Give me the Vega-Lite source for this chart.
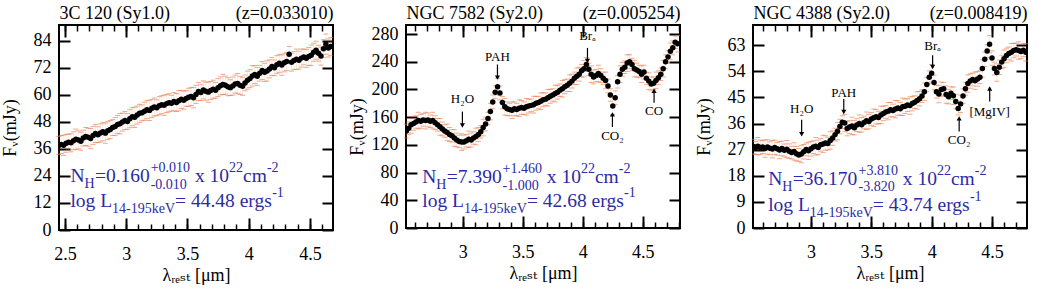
{
"$schema": "https://vega.github.io/schema/vega-lite/v6.json",
"background": "white",
"padding": {"left": 0, "top": 3, "right": 0, "bottom": 0},
"spacing": 12,
"config": {
  "font": "Liberation Serif, DejaVu Serif, serif",
  "view": {"stroke": "black", "strokeWidth": 2},
  "axis": {"domain": false, "grid": false, "labelFont": "Liberation Serif, DejaVu Serif, serif", "titleFont": "Liberation Serif, DejaVu Serif, serif", "labelColor": "black", "titleColor": "black", "tickColor": "black", "titleFontWeight": "normal", "labelFlush": false, "labelOverlap": false},
  "text": {"font": "Liberation Serif, DejaVu Serif, serif"}
},
"datasets": {
"s1": [
{"w":2.45,"f":37.5,"e":4},{"w":2.47,"f":38.0,"e":4},{"w":2.49,"f":37.6,"e":4.5},{"w":2.51,"f":38.5,"e":4},{"w":2.53,"f":39.0,"e":3.5},{"w":2.55,"f":38.7,"e":4},{"w":2.57,"f":39.6,"e":4},{"w":2.59,"f":40.3,"e":4.5},{"w":2.61,"f":40.0,"e":4},{"w":2.63,"f":39.4,"e":4},{"w":2.65,"f":40.8,"e":3.5},{"w":2.67,"f":41.5,"e":4},{"w":2.69,"f":41.2,"e":4},{"w":2.71,"f":40.6,"e":4.5},{"w":2.73,"f":42.0,"e":4},{"w":2.75,"f":42.8,"e":4},{"w":2.77,"f":42.3,"e":3.5},{"w":2.79,"f":43.1,"e":4},{"w":2.81,"f":43.6,"e":4},{"w":2.83,"f":43.0,"e":4.5},{"w":2.85,"f":44.1,"e":4},{"w":2.87,"f":44.6,"e":4},{"w":2.89,"f":45.5,"e":3.5},{"w":2.91,"f":45.9,"e":4},{"w":2.93,"f":46.8,"e":4},{"w":2.95,"f":47.2,"e":4.5},{"w":2.97,"f":47.9,"e":4},{"w":2.99,"f":48.6,"e":4},{"w":3.01,"f":48.2,"e":3.5},{"w":3.03,"f":49.4,"e":4},{"w":3.05,"f":50.3,"e":4},{"w":3.07,"f":50.0,"e":4.5},{"w":3.09,"f":51.0,"e":4},{"w":3.11,"f":51.8,"e":4},{"w":3.13,"f":52.0,"e":3.5},{"w":3.15,"f":52.7,"e":4},{"w":3.17,"f":53.4,"e":4},{"w":3.19,"f":53.1,"e":4.5},{"w":3.21,"f":54.0,"e":4},{"w":3.23,"f":54.6,"e":4},{"w":3.25,"f":54.3,"e":3.5},{"w":3.27,"f":55.2,"e":4},{"w":3.29,"f":55.6,"e":4},{"w":3.31,"f":55.4,"e":4.5},{"w":3.33,"f":56.1,"e":4},{"w":3.35,"f":56.5,"e":4},{"w":3.37,"f":56.3,"e":3.5},{"w":3.39,"f":57.0,"e":4},{"w":3.41,"f":56.6,"e":4},{"w":3.43,"f":57.4,"e":4.5},{"w":3.45,"f":58.0,"e":4},{"w":3.47,"f":57.6,"e":4},{"w":3.49,"f":58.4,"e":3.5},{"w":3.51,"f":58.9,"e":4},{"w":3.53,"f":59.3,"e":4},{"w":3.55,"f":58.7,"e":4.5},{"w":3.57,"f":60.2,"e":4},{"w":3.59,"f":61.5,"e":4},{"w":3.61,"f":61.0,"e":3.5},{"w":3.63,"f":62.2,"e":4},{"w":3.65,"f":61.6,"e":4},{"w":3.67,"f":61.2,"e":4.5},{"w":3.69,"f":61.9,"e":4},{"w":3.71,"f":62.5,"e":4},{"w":3.73,"f":62.0,"e":3.5},{"w":3.75,"f":63.2,"e":4},{"w":3.77,"f":64.0,"e":4},{"w":3.79,"f":64.6,"e":4.5},{"w":3.81,"f":64.3,"e":4},{"w":3.83,"f":63.6,"e":4},{"w":3.85,"f":63.2,"e":3.5},{"w":3.87,"f":63.9,"e":4},{"w":3.89,"f":64.8,"e":4},{"w":3.91,"f":65.0,"e":4.5},{"w":3.93,"f":64.2,"e":4},{"w":3.95,"f":63.8,"e":4},{"w":3.97,"f":65.3,"e":3.5},{"w":3.99,"f":66.5,"e":4},{"w":4.01,"f":67.2,"e":4},{"w":4.03,"f":68.4,"e":4.5},{"w":4.05,"f":69.0,"e":4},{"w":4.07,"f":68.2,"e":4},{"w":4.09,"f":69.6,"e":3.5},{"w":4.11,"f":70.8,"e":4},{"w":4.13,"f":70.0,"e":4},{"w":4.15,"f":70.6,"e":4.5},{"w":4.17,"f":71.5,"e":4},{"w":4.19,"f":72.6,"e":4},{"w":4.21,"f":72.0,"e":3.5},{"w":4.23,"f":73.4,"e":4},{"w":4.25,"f":74.0,"e":4},{"w":4.27,"f":73.2,"e":4.5},{"w":4.29,"f":74.2,"e":4},{"w":4.31,"f":74.8,"e":4},{"w":4.33,"f":78.0,"e":3.5},{"w":4.35,"f":74.5,"e":4},{"w":4.37,"f":75.2,"e":4},{"w":4.39,"f":75.8,"e":4.5},{"w":4.41,"f":75.4,"e":4},{"w":4.43,"f":76.3,"e":4},{"w":4.45,"f":76.8,"e":3.5},{"w":4.47,"f":76.2,"e":4},{"w":4.49,"f":77.0,"e":4},{"w":4.51,"f":77.6,"e":4.5},{"w":4.53,"f":78.9,"e":4},{"w":4.55,"f":79.8,"e":4},{"w":4.57,"f":78.5,"e":3.5},{"w":4.59,"f":77.2,"e":4},{"w":4.61,"f":80.5,"e":4},{"w":4.63,"f":82.5,"e":4.5},{"w":4.65,"f":80.8,"e":4},{"w":4.67,"f":81.5,"e":4}
],
"s2": [
{"w":2.53,"f":140,"e":10},{"w":2.55,"f":144,"e":9},{"w":2.57,"f":149,"e":12},{"w":2.59,"f":151,"e":10},{"w":2.61,"f":153,"e":9},{"w":2.63,"f":155,"e":12},{"w":2.65,"f":154,"e":10},{"w":2.67,"f":156,"e":9},{"w":2.69,"f":155,"e":12},{"w":2.71,"f":156,"e":10},{"w":2.73,"f":154,"e":9},{"w":2.75,"f":155,"e":12},{"w":2.77,"f":152,"e":10},{"w":2.79,"f":149,"e":9},{"w":2.81,"f":146,"e":12},{"w":2.83,"f":143,"e":10},{"w":2.85,"f":140,"e":9},{"w":2.87,"f":138,"e":12},{"w":2.89,"f":135,"e":10},{"w":2.91,"f":133,"e":9},{"w":2.93,"f":130,"e":12},{"w":2.95,"f":127,"e":10},{"w":2.97,"f":125,"e":9},{"w":2.99,"f":124,"e":12},{"w":3.01,"f":124,"e":10},{"w":3.03,"f":126,"e":9},{"w":3.05,"f":128,"e":12},{"w":3.07,"f":127,"e":10},{"w":3.09,"f":130,"e":9},{"w":3.11,"f":132,"e":12},{"w":3.13,"f":135,"e":10},{"w":3.15,"f":139,"e":9},{"w":3.17,"f":145,"e":12},{"w":3.19,"f":150,"e":10},{"w":3.21,"f":158,"e":9},{"w":3.23,"f":168,"e":12},{"w":3.25,"f":182,"e":10},{"w":3.27,"f":196,"e":9},{"w":3.29,"f":204,"e":12},{"w":3.31,"f":195,"e":10},{"w":3.33,"f":181,"e":9},{"w":3.35,"f":175,"e":12},{"w":3.37,"f":172,"e":10},{"w":3.39,"f":171,"e":9},{"w":3.41,"f":170,"e":12},{"w":3.43,"f":172,"e":10},{"w":3.45,"f":171,"e":9},{"w":3.47,"f":173,"e":12},{"w":3.49,"f":174,"e":10},{"w":3.51,"f":173,"e":9},{"w":3.53,"f":175,"e":12},{"w":3.55,"f":176,"e":10},{"w":3.57,"f":177,"e":9},{"w":3.59,"f":178,"e":12},{"w":3.61,"f":180,"e":10},{"w":3.63,"f":181,"e":9},{"w":3.65,"f":183,"e":12},{"w":3.67,"f":185,"e":10},{"w":3.69,"f":186,"e":9},{"w":3.71,"f":188,"e":12},{"w":3.73,"f":190,"e":10},{"w":3.75,"f":192,"e":9},{"w":3.77,"f":194,"e":12},{"w":3.79,"f":196,"e":10},{"w":3.81,"f":199,"e":9},{"w":3.83,"f":201,"e":12},{"w":3.85,"f":204,"e":10},{"w":3.87,"f":206,"e":9},{"w":3.89,"f":209,"e":12},{"w":3.91,"f":212,"e":10},{"w":3.93,"f":216,"e":9},{"w":3.95,"f":219,"e":12},{"w":3.97,"f":222,"e":10},{"w":3.99,"f":227,"e":9},{"w":4.01,"f":230,"e":12},{"w":4.03,"f":236,"e":10},{"w":4.05,"f":229,"e":9},{"w":4.07,"f":222,"e":12},{"w":4.09,"f":218,"e":10},{"w":4.11,"f":220,"e":9},{"w":4.13,"f":223,"e":12},{"w":4.15,"f":220,"e":10},{"w":4.17,"f":216,"e":9},{"w":4.19,"f":213,"e":12},{"w":4.21,"f":205,"e":10},{"w":4.23,"f":192,"e":9},{"w":4.25,"f":176,"e":12},{"w":4.27,"f":188,"e":10},{"w":4.29,"f":211,"e":9},{"w":4.31,"f":222,"e":12},{"w":4.33,"f":229,"e":10},{"w":4.35,"f":232,"e":9},{"w":4.37,"f":238,"e":12},{"w":4.39,"f":240,"e":10},{"w":4.41,"f":236,"e":9},{"w":4.43,"f":230,"e":12},{"w":4.45,"f":228,"e":10},{"w":4.47,"f":226,"e":9},{"w":4.49,"f":222,"e":12},{"w":4.51,"f":225,"e":10},{"w":4.53,"f":216,"e":9},{"w":4.55,"f":212,"e":12},{"w":4.57,"f":208,"e":10},{"w":4.59,"f":209,"e":9},{"w":4.61,"f":213,"e":12},{"w":4.63,"f":217,"e":10},{"w":4.65,"f":222,"e":9},{"w":4.67,"f":230,"e":12},{"w":4.69,"f":240,"e":10},{"w":4.71,"f":247,"e":9},{"w":4.73,"f":255,"e":12},{"w":4.75,"f":260,"e":10},{"w":4.77,"f":268,"e":9},{"w":4.79,"f":266,"e":12}
],
"s3": [
{"w":2.53,"f":28.0,"e":2.5},{"w":2.54,"f":27.6,"e":2.2},{"w":2.56,"f":28.2,"e":3},{"w":2.58,"f":27.8,"e":2.5},{"w":2.60,"f":27.9,"e":2.2},{"w":2.62,"f":27.4,"e":3},{"w":2.64,"f":27.9,"e":2.5},{"w":2.66,"f":27.5,"e":2.2},{"w":2.68,"f":27.2,"e":3},{"w":2.70,"f":27.8,"e":2.5},{"w":2.72,"f":27.3,"e":2.2},{"w":2.74,"f":26.9,"e":3},{"w":2.76,"f":27.4,"e":2.5},{"w":2.78,"f":26.8,"e":2.2},{"w":2.80,"f":27.2,"e":3},{"w":2.82,"f":26.5,"e":2.5},{"w":2.84,"f":26.0,"e":2.2},{"w":2.86,"f":26.4,"e":3},{"w":2.88,"f":25.6,"e":2.5},{"w":2.90,"f":25.2,"e":2.2},{"w":2.92,"f":25.5,"e":3},{"w":2.94,"f":26.3,"e":2.5},{"w":2.96,"f":27.1,"e":2.2},{"w":2.98,"f":26.6,"e":3},{"w":3.00,"f":27.3,"e":2.5},{"w":3.02,"f":27.9,"e":2.2},{"w":3.04,"f":28.2,"e":3},{"w":3.06,"f":27.8,"e":2.5},{"w":3.08,"f":28.7,"e":2.2},{"w":3.10,"f":29.0,"e":3},{"w":3.12,"f":29.3,"e":2.5},{"w":3.14,"f":29.1,"e":2.2},{"w":3.16,"f":30.2,"e":3},{"w":3.18,"f":31.0,"e":2.5},{"w":3.20,"f":32.2,"e":2.2},{"w":3.22,"f":33.4,"e":3},{"w":3.24,"f":35.0,"e":2.5},{"w":3.26,"f":36.5,"e":2.2},{"w":3.28,"f":36.2,"e":3},{"w":3.30,"f":34.3,"e":2.5},{"w":3.32,"f":34.8,"e":2.2},{"w":3.34,"f":35.2,"e":3},{"w":3.36,"f":34.6,"e":2.5},{"w":3.38,"f":35.5,"e":2.2},{"w":3.40,"f":36.0,"e":3},{"w":3.42,"f":35.6,"e":2.5},{"w":3.44,"f":36.4,"e":2.2},{"w":3.46,"f":37.0,"e":3},{"w":3.48,"f":36.7,"e":2.5},{"w":3.50,"f":37.6,"e":2.2},{"w":3.52,"f":38.0,"e":3},{"w":3.54,"f":38.4,"e":2.5},{"w":3.56,"f":38.1,"e":2.2},{"w":3.58,"f":39.0,"e":3},{"w":3.60,"f":39.5,"e":2.5},{"w":3.62,"f":40.0,"e":2.2},{"w":3.64,"f":40.3,"e":3},{"w":3.66,"f":40.8,"e":2.5},{"w":3.68,"f":40.5,"e":2.2},{"w":3.70,"f":41.0,"e":3},{"w":3.72,"f":41.4,"e":2.5},{"w":3.74,"f":41.1,"e":2.2},{"w":3.76,"f":41.8,"e":3},{"w":3.78,"f":42.0,"e":2.5},{"w":3.80,"f":42.4,"e":2.2},{"w":3.82,"f":42.2,"e":3},{"w":3.84,"f":42.9,"e":2.5},{"w":3.86,"f":43.4,"e":2.2},{"w":3.88,"f":44.0,"e":3},{"w":3.90,"f":44.6,"e":2.5},{"w":3.92,"f":45.5,"e":2.2},{"w":3.94,"f":47.0,"e":3},{"w":3.96,"f":49.5,"e":2.5},{"w":3.98,"f":52.0,"e":2.2},{"w":4.00,"f":53.4,"e":3},{"w":4.02,"f":50.2,"e":2.5},{"w":4.04,"f":47.0,"e":2.2},{"w":4.06,"f":46.2,"e":3},{"w":4.08,"f":47.8,"e":2.5},{"w":4.10,"f":48.0,"e":2.2},{"w":4.12,"f":46.0,"e":3},{"w":4.14,"f":45.3,"e":2.5},{"w":4.16,"f":46.5,"e":2.2},{"w":4.18,"f":45.6,"e":3},{"w":4.20,"f":43.6,"e":2.5},{"w":4.22,"f":41.2,"e":2.2},{"w":4.24,"f":42.8,"e":3},{"w":4.26,"f":45.5,"e":2.5},{"w":4.28,"f":48.0,"e":2.2},{"w":4.30,"f":49.8,"e":3},{"w":4.32,"f":50.7,"e":2.5},{"w":4.34,"f":51.2,"e":2.2},{"w":4.36,"f":50.8,"e":3},{"w":4.38,"f":51.4,"e":2.5},{"w":4.40,"f":52.0,"e":2.2},{"w":4.42,"f":55.0,"e":3},{"w":4.44,"f":58.2,"e":2.5},{"w":4.46,"f":61.0,"e":2.2},{"w":4.48,"f":63.4,"e":3},{"w":4.50,"f":58.6,"e":2.5},{"w":4.52,"f":55.0,"e":2.2},{"w":4.54,"f":53.6,"e":3},{"w":4.56,"f":55.4,"e":2.5},{"w":4.58,"f":57.2,"e":2.2},{"w":4.60,"f":58.4,"e":3},{"w":4.62,"f":59.5,"e":2.5},{"w":4.64,"f":60.2,"e":2.2},{"w":4.66,"f":60.6,"e":3},{"w":4.68,"f":61.2,"e":2.5},{"w":4.70,"f":61.5,"e":2.2},{"w":4.72,"f":61.2,"e":3},{"w":4.74,"f":60.9,"e":2.5},{"w":4.76,"f":61.3,"e":2.2},{"w":4.78,"f":60.6,"e":3}
],
"a2": [
{"t":"H₂O","x":2.997,"ty":185.7,"y1":168,"y2":148,"d":"down"},
{"t":"PAH","x":3.289,"ty":247,"y1":236,"y2":217,"d":"down"},
{"t":"Brₐ","x":4.039,"ty":277,"y1":260,"y2":241,"d":"down"},
{"t":"CO₂","x":4.247,"ty":132.8,"y1":145.7,"y2":164,"d":"up"},
{"t":"CO","x":4.594,"ty":168.8,"y1":180.8,"y2":198,"d":"up"}
],
"a3": [
{"t":"H₂O","x":2.923,"ty":41.0,"y1":37.3,"y2":32.3,"d":"down"},
{"t":"PAH","x":3.272,"ty":46.6,"y1":44.5,"y2":40.0,"d":"down"},
{"t":"Brₐ","x":4.008,"ty":62.8,"y1":59.6,"y2":55.5,"d":"down"},
{"t":"CO₂","x":4.228,"ty":30.4,"y1":33.3,"y2":37.8,"d":"up"},
{"t":"[MgIV]","x":4.481,"ty":40.1,"y1":43.6,"y2":48.1,"d":"up"}
],
"i1": [
{"k":"n","t":"N","x":2.545,"y":21.1},{"k":"h","t":"H","x":2.545,"y":21.1},{"k":"v","t":"=0.160","x":2.545,"y":21.1},{"k":"p","t":"+0.010","x":2.545,"y":21.1},{"k":"m","t":"-0.010","x":2.545,"y":21.1},{"k":"x","t":"x 10","x":2.545,"y":21.1},{"k":"e","t":"22","x":2.545,"y":21.1},{"k":"c","t":"cm","x":2.545,"y":21.1},{"k":"q","t":"-2","x":2.545,"y":21.1},
{"k":"l","t":"log L","x":2.545,"y":10.2},{"k":"s","t":"14-195keV","x":2.545,"y":10.2},{"k":"r","t":"= 44.48 ergs","x":2.545,"y":10.2},{"k":"u","t":"-1","x":2.545,"y":10.2}
],
"i2": [
{"k":"n","t":"N","x":2.6625,"y":64.9},{"k":"h","t":"H","x":2.6625,"y":64.9},{"k":"v","t":"=7.390","x":2.6625,"y":64.9},{"k":"p","t":"+1.460","x":2.6625,"y":64.9},{"k":"m","t":"-1.000","x":2.6625,"y":64.9},{"k":"x","t":"x 10","x":2.6625,"y":64.9},{"k":"e","t":"22","x":2.6625,"y":64.9},{"k":"c","t":"cm","x":2.6625,"y":64.9},{"k":"q","t":"-2","x":2.6625,"y":64.9},
{"k":"l","t":"log L","x":2.6625,"y":29.6},{"k":"s","t":"14-195keV","x":2.6625,"y":29.6},{"k":"r","t":"= 42.68 ergs","x":2.6625,"y":29.6},{"k":"u","t":"-1","x":2.6625,"y":29.6}
],
"i3": [
{"k":"n","t":"N","x":2.6455,"y":14.75},{"k":"h","t":"H","x":2.6455,"y":14.75},{"k":"v","t":"=36.170","x":2.6455,"y":14.75},{"k":"p","t":"+3.810","x":2.6455,"y":14.75},{"k":"m","t":"-3.820","x":2.6455,"y":14.75},{"k":"x","t":"x 10","x":2.6455,"y":14.75},{"k":"e","t":"22","x":2.6455,"y":14.75},{"k":"c","t":"cm","x":2.6455,"y":14.75},{"k":"q","t":"-2","x":2.6455,"y":14.75},
{"k":"l","t":"log L","x":2.6455,"y":5.9},{"k":"s","t":"14-195keV","x":2.6455,"y":5.9},{"k":"r","t":"= 43.74 ergs","x":2.6455,"y":5.9},{"k":"u","t":"-1","x":2.6455,"y":5.9}
]
},
"hconcat": [
{
"width": 274, "height": 205,
"resolve": {"axis": {"x": "independent", "y": "independent"}},
"layer": [
{"data": {"name": "s1"},
 "mark": {"type": "errorbar", "color": "#e2733f", "ticks": {"size": 5, "thickness": 1, "opacity": 0.6}, "rule": {"strokeWidth": 0.6, "opacity": 0.25}},
 "encoding": {
  "x": {"field": "w", "type": "quantitative", "scale": {"domain": [2.452, 4.688], "nice": false, "zero": false},
        "axis": {"orient": "bottom", "values": [2.5,3,3.5,4,4.5], "format": "~g", "ticks": false, "tickSize": 0, "labelFontSize": 18, "labelPadding": 15, "title": "λᵣₑₛₜ [μm]", "titleFontSize": 18, "titlePadding": 3}},
  "y": {"field": "f", "type": "quantitative", "scale": {"domain": [0, 91], "nice": false, "zero": true},
        "axis": {"orient": "left", "values": [0,12,24,36,48,60,72,84], "ticks": false, "tickSize": 0, "labelFontSize": 18, "labelPadding": 8, "title": "Fᵥ(mJy)", "titleFontSize": 18, "titleX": -40, "titleBaseline": "bottom"}},
  "yError": {"field": "e"}
 }},
{"data": {"name": "s1"},
 "mark": {"type": "circle", "size": 30, "color": "black", "opacity": 1, "clip": true},
 "encoding": {
  "x": {"field": "w", "type": "quantitative", "axis": {"orient": "bottom", "values": [2.5,3,3.5,4,4.5], "labels": false, "tickSize": -12, "tickWidth": 2, "title": null}},
  "y": {"field": "f", "type": "quantitative", "axis": {"orient": "left", "values": [0,12,24,36,48,60,72,84], "labels": false, "tickSize": -11, "tickWidth": 2, "title": null}}
 }},
{"data": {"name": "i1"}, "transform": [{"filter": "datum.k==='n'"}],
 "mark": {"type": "text", "align": "left", "baseline": "alphabetic", "fontSize": 19.5, "color": "#2b2ba6", "dx": 0},
 "encoding": {
  "x": {"field": "x", "type": "quantitative", "axis": {"orient": "bottom", "values": [2.5,2.6,2.7,2.8,2.9,3,3.1,3.2,3.3,3.4,3.5,3.6,3.7,3.8,3.9,4,4.1,4.2,4.3,4.4,4.5,4.6], "labels": false, "tickSize": -6, "tickWidth": 1.5, "title": null}},
  "y": {"field": "y", "type": "quantitative", "axis": {"orient": "right", "values": [0,12,24,36,48,60,72,84], "labels": false, "tickSize": -11, "tickWidth": 2, "title": null}},
  "text": {"field": "t"}
 }},
{"data": {"name": "i1"}, "transform": [{"filter": "datum.k==='h'"}],
 "mark": {"type": "text", "align": "left", "baseline": "alphabetic", "fontSize": 14, "color": "#2b2ba6", "dx": 14.1, "dy": 6},
 "encoding": {
  "x": {"field": "x", "type": "quantitative", "axis": {"orient": "top", "values": [2.5,3,3.5,4,4.5], "labels": false, "tickSize": -12, "tickWidth": 2, "minExtent": 0, "title": "3C 120 (Sy1.0)", "titleAnchor": "start", "titleFontSize": 18, "titlePadding": 6, "titleBaseline": "alphabetic"}},
  "y": {"field": "y", "type": "quantitative", "axis": null},
  "text": {"field": "t"}
 }},
{"data": {"name": "i1"}, "transform": [{"filter": "datum.k==='v'"}],
 "mark": {"type": "text", "align": "left", "baseline": "alphabetic", "fontSize": 19.5, "color": "#2b2ba6", "dx": 24.6},
 "encoding": {
  "x": {"field": "x", "type": "quantitative", "axis": {"orient": "top", "values": [2.5,2.6,2.7,2.8,2.9,3,3.1,3.2,3.3,3.4,3.5,3.6,3.7,3.8,3.9,4,4.1,4.2,4.3,4.4,4.5,4.6], "labels": false, "tickSize": -6, "tickWidth": 1.5, "minExtent": 0, "title": "(z=0.033010)", "titleAnchor": "end", "titleFontSize": 18, "titlePadding": 6, "titleBaseline": "alphabetic"}},
  "y": {"field": "y", "type": "quantitative", "axis": null},
  "text": {"field": "t"}
 }},
{"data": {"name": "i1"}, "transform": [{"filter": "datum.k==='p'"}],
 "mark": {"type": "text", "align": "left", "baseline": "alphabetic", "fontSize": 14, "color": "#2b2ba6", "dx": 80.3, "dy": -10},
 "encoding": {"x": {"field": "x", "type": "quantitative", "axis": null}, "y": {"field": "y", "type": "quantitative", "axis": null}, "text": {"field": "t"}}},
{"data": {"name": "i1"}, "transform": [{"filter": "datum.k==='m'"}],
 "mark": {"type": "text", "align": "left", "baseline": "alphabetic", "fontSize": 14, "color": "#2b2ba6", "dx": 80.3, "dy": 7},
 "encoding": {"x": {"field": "x", "type": "quantitative", "axis": null}, "y": {"field": "y", "type": "quantitative", "axis": null}, "text": {"field": "t"}}},
{"data": {"name": "i1"}, "transform": [{"filter": "datum.k==='x'"}],
 "mark": {"type": "text", "align": "left", "baseline": "alphabetic", "fontSize": 19.5, "color": "#2b2ba6", "dx": 124.6},
 "encoding": {"x": {"field": "x", "type": "quantitative", "axis": null}, "y": {"field": "y", "type": "quantitative", "axis": null}, "text": {"field": "t"}}},
{"data": {"name": "i1"}, "transform": [{"filter": "datum.k==='e'"}],
 "mark": {"type": "text", "align": "left", "baseline": "alphabetic", "fontSize": 14, "color": "#2b2ba6", "dx": 158.7, "dy": -10},
 "encoding": {"x": {"field": "x", "type": "quantitative", "axis": null}, "y": {"field": "y", "type": "quantitative", "axis": null}, "text": {"field": "t"}}},
{"data": {"name": "i1"}, "transform": [{"filter": "datum.k==='c'"}],
 "mark": {"type": "text", "align": "left", "baseline": "alphabetic", "fontSize": 19.5, "color": "#2b2ba6", "dx": 172.7},
 "encoding": {"x": {"field": "x", "type": "quantitative", "axis": null}, "y": {"field": "y", "type": "quantitative", "axis": null}, "text": {"field": "t"}}},
{"data": {"name": "i1"}, "transform": [{"filter": "datum.k==='q'"}],
 "mark": {"type": "text", "align": "left", "baseline": "alphabetic", "fontSize": 14, "color": "#2b2ba6", "dx": 196.5, "dy": -10},
 "encoding": {"x": {"field": "x", "type": "quantitative", "axis": null}, "y": {"field": "y", "type": "quantitative", "axis": null}, "text": {"field": "t"}}},
{"data": {"name": "i1"}, "transform": [{"filter": "datum.k==='l'"}],
 "mark": {"type": "text", "align": "left", "baseline": "alphabetic", "fontSize": 19.5, "color": "#2b2ba6", "dx": 0},
 "encoding": {"x": {"field": "x", "type": "quantitative", "axis": null}, "y": {"field": "y", "type": "quantitative", "axis": null}, "text": {"field": "t"}}},
{"data": {"name": "i1"}, "transform": [{"filter": "datum.k==='s'"}],
 "mark": {"type": "text", "align": "left", "baseline": "alphabetic", "fontSize": 14, "color": "#2b2ba6", "dx": 41.7, "dy": 6},
 "encoding": {"x": {"field": "x", "type": "quantitative", "axis": null}, "y": {"field": "y", "type": "quantitative", "axis": null}, "text": {"field": "t"}}},
{"data": {"name": "i1"}, "transform": [{"filter": "datum.k==='r'"}],
 "mark": {"type": "text", "align": "left", "baseline": "alphabetic", "fontSize": 19.5, "color": "#2b2ba6", "dx": 104.7},
 "encoding": {"x": {"field": "x", "type": "quantitative", "axis": null}, "y": {"field": "y", "type": "quantitative", "axis": null}, "text": {"field": "t"}}},
{"data": {"name": "i1"}, "transform": [{"filter": "datum.k==='u'"}],
 "mark": {"type": "text", "align": "left", "baseline": "alphabetic", "fontSize": 14, "color": "#2b2ba6", "dx": 201.8, "dy": -10},
 "encoding": {"x": {"field": "x", "type": "quantitative", "axis": null}, "y": {"field": "y", "type": "quantitative", "axis": null}, "text": {"field": "t"}}}
]
},
{
"width": 274, "height": 203,
"resolve": {"axis": {"x": "independent", "y": "independent"}},
"layer": [
{"data": {"name": "s2"},
 "mark": {"type": "errorbar", "color": "#e2733f", "ticks": {"size": 5, "thickness": 1, "opacity": 0.6}, "rule": {"strokeWidth": 0.6, "opacity": 0.25}},
 "encoding": {
  "x": {"field": "w", "type": "quantitative", "scale": {"domain": [2.527, 4.81], "nice": false, "zero": false},
        "axis": {"orient": "bottom", "values": [3,3.5,4,4.5], "format": "~g", "ticks": false, "tickSize": 0, "labelFontSize": 18, "labelPadding": 15, "title": "λᵣₑₛₜ [μm]", "titleFontSize": 18, "titlePadding": 3}},
  "y": {"field": "f", "type": "quantitative", "scale": {"domain": [0, 293], "nice": false, "zero": true},
        "axis": {"orient": "left", "values": [0,40,80,120,160,200,240,280], "ticks": false, "tickSize": 0, "labelFontSize": 18, "labelPadding": 8, "title": "Fᵥ(mJy)", "titleFontSize": 18, "titleX": -40, "titleBaseline": "bottom"}},
  "yError": {"field": "e"}
 }},
{"data": {"name": "s2"},
 "mark": {"type": "circle", "size": 30, "color": "black", "opacity": 1, "clip": true},
 "encoding": {
  "x": {"field": "w", "type": "quantitative", "axis": {"orient": "bottom", "values": [3,3.5,4,4.5], "labels": false, "tickSize": -12, "tickWidth": 2, "title": null}},
  "y": {"field": "f", "type": "quantitative", "axis": {"orient": "left", "values": [0,40,80,120,160,200,240,280], "labels": false, "tickSize": -11, "tickWidth": 2, "title": null}}
 }},
{"data": {"name": "a2"},
 "mark": {"type": "rule", "color": "black", "strokeWidth": 1.2},
 "encoding": {"x": {"field": "x", "type": "quantitative", "axis": null}, "y": {"field": "y1", "type": "quantitative", "axis": null}, "y2": {"field": "y2"}}},
{"data": {"name": "a2"},
 "mark": {"type": "point", "filled": true, "color": "black", "size": 26, "opacity": 1},
 "encoding": {"x": {"field": "x", "type": "quantitative", "axis": null}, "y": {"field": "y2", "type": "quantitative", "axis": null},
  "shape": {"field": "d", "type": "nominal", "scale": {"domain": ["down", "up"], "range": ["triangle-down", "triangle-up"]}, "legend": null}}},
{"data": {"name": "a2"},
 "mark": {"type": "text", "align": "center", "baseline": "middle", "fontSize": 13, "color": "black"},
 "encoding": {"x": {"field": "x", "type": "quantitative", "axis": null}, "y": {"field": "ty", "type": "quantitative", "axis": null}, "text": {"field": "t"}}},
{"data": {"name": "i2"}, "transform": [{"filter": "datum.k==='n'"}],
 "mark": {"type": "text", "align": "left", "baseline": "alphabetic", "fontSize": 19.5, "color": "#2b2ba6", "dx": 0},
 "encoding": {
  "x": {"field": "x", "type": "quantitative", "axis": {"orient": "bottom", "values": [2.6,2.7,2.8,2.9,3,3.1,3.2,3.3,3.4,3.5,3.6,3.7,3.8,3.9,4,4.1,4.2,4.3,4.4,4.5,4.6,4.7,4.8], "labels": false, "tickSize": -6, "tickWidth": 1.5, "title": null}},
  "y": {"field": "y", "type": "quantitative", "axis": {"orient": "right", "values": [0,40,80,120,160,200,240,280], "labels": false, "tickSize": -11, "tickWidth": 2, "title": null}},
  "text": {"field": "t"}
 }},
{"data": {"name": "i2"}, "transform": [{"filter": "datum.k==='h'"}],
 "mark": {"type": "text", "align": "left", "baseline": "alphabetic", "fontSize": 14, "color": "#2b2ba6", "dx": 14.1, "dy": 6},
 "encoding": {
  "x": {"field": "x", "type": "quantitative", "axis": {"orient": "top", "values": [3,3.5,4,4.5], "labels": false, "tickSize": -12, "tickWidth": 2, "minExtent": 0, "title": "NGC 7582 (Sy2.0)", "titleAnchor": "start", "titleFontSize": 18, "titlePadding": 6, "titleBaseline": "alphabetic"}},
  "y": {"field": "y", "type": "quantitative", "axis": null},
  "text": {"field": "t"}
 }},
{"data": {"name": "i2"}, "transform": [{"filter": "datum.k==='v'"}],
 "mark": {"type": "text", "align": "left", "baseline": "alphabetic", "fontSize": 19.5, "color": "#2b2ba6", "dx": 24.6},
 "encoding": {
  "x": {"field": "x", "type": "quantitative", "axis": {"orient": "top", "values": [2.6,2.7,2.8,2.9,3,3.1,3.2,3.3,3.4,3.5,3.6,3.7,3.8,3.9,4,4.1,4.2,4.3,4.4,4.5,4.6,4.7,4.8], "labels": false, "tickSize": -6, "tickWidth": 1.5, "minExtent": 0, "title": "(z=0.005254)", "titleAnchor": "end", "titleFontSize": 18, "titlePadding": 6, "titleBaseline": "alphabetic"}},
  "y": {"field": "y", "type": "quantitative", "axis": null},
  "text": {"field": "t"}
 }},
{"data": {"name": "i2"}, "transform": [{"filter": "datum.k==='p'"}],
 "mark": {"type": "text", "align": "left", "baseline": "alphabetic", "fontSize": 14, "color": "#2b2ba6", "dx": 80.3, "dy": -10},
 "encoding": {"x": {"field": "x", "type": "quantitative", "axis": null}, "y": {"field": "y", "type": "quantitative", "axis": null}, "text": {"field": "t"}}},
{"data": {"name": "i2"}, "transform": [{"filter": "datum.k==='m'"}],
 "mark": {"type": "text", "align": "left", "baseline": "alphabetic", "fontSize": 14, "color": "#2b2ba6", "dx": 80.3, "dy": 7},
 "encoding": {"x": {"field": "x", "type": "quantitative", "axis": null}, "y": {"field": "y", "type": "quantitative", "axis": null}, "text": {"field": "t"}}},
{"data": {"name": "i2"}, "transform": [{"filter": "datum.k==='x'"}],
 "mark": {"type": "text", "align": "left", "baseline": "alphabetic", "fontSize": 19.5, "color": "#2b2ba6", "dx": 124.6},
 "encoding": {"x": {"field": "x", "type": "quantitative", "axis": null}, "y": {"field": "y", "type": "quantitative", "axis": null}, "text": {"field": "t"}}},
{"data": {"name": "i2"}, "transform": [{"filter": "datum.k==='e'"}],
 "mark": {"type": "text", "align": "left", "baseline": "alphabetic", "fontSize": 14, "color": "#2b2ba6", "dx": 158.7, "dy": -10},
 "encoding": {"x": {"field": "x", "type": "quantitative", "axis": null}, "y": {"field": "y", "type": "quantitative", "axis": null}, "text": {"field": "t"}}},
{"data": {"name": "i2"}, "transform": [{"filter": "datum.k==='c'"}],
 "mark": {"type": "text", "align": "left", "baseline": "alphabetic", "fontSize": 19.5, "color": "#2b2ba6", "dx": 172.7},
 "encoding": {"x": {"field": "x", "type": "quantitative", "axis": null}, "y": {"field": "y", "type": "quantitative", "axis": null}, "text": {"field": "t"}}},
{"data": {"name": "i2"}, "transform": [{"filter": "datum.k==='q'"}],
 "mark": {"type": "text", "align": "left", "baseline": "alphabetic", "fontSize": 14, "color": "#2b2ba6", "dx": 196.5, "dy": -10},
 "encoding": {"x": {"field": "x", "type": "quantitative", "axis": null}, "y": {"field": "y", "type": "quantitative", "axis": null}, "text": {"field": "t"}}},
{"data": {"name": "i2"}, "transform": [{"filter": "datum.k==='l'"}],
 "mark": {"type": "text", "align": "left", "baseline": "alphabetic", "fontSize": 19.5, "color": "#2b2ba6", "dx": 0},
 "encoding": {"x": {"field": "x", "type": "quantitative", "axis": null}, "y": {"field": "y", "type": "quantitative", "axis": null}, "text": {"field": "t"}}},
{"data": {"name": "i2"}, "transform": [{"filter": "datum.k==='s'"}],
 "mark": {"type": "text", "align": "left", "baseline": "alphabetic", "fontSize": 14, "color": "#2b2ba6", "dx": 41.7, "dy": 6},
 "encoding": {"x": {"field": "x", "type": "quantitative", "axis": null}, "y": {"field": "y", "type": "quantitative", "axis": null}, "text": {"field": "t"}}},
{"data": {"name": "i2"}, "transform": [{"filter": "datum.k==='r'"}],
 "mark": {"type": "text", "align": "left", "baseline": "alphabetic", "fontSize": 19.5, "color": "#2b2ba6", "dx": 104.7},
 "encoding": {"x": {"field": "x", "type": "quantitative", "axis": null}, "y": {"field": "y", "type": "quantitative", "axis": null}, "text": {"field": "t"}}},
{"data": {"name": "i2"}, "transform": [{"filter": "datum.k==='u'"}],
 "mark": {"type": "text", "align": "left", "baseline": "alphabetic", "fontSize": 14, "color": "#2b2ba6", "dx": 201.8, "dy": -10},
 "encoding": {"x": {"field": "x", "type": "quantitative", "axis": null}, "y": {"field": "y", "type": "quantitative", "axis": null}, "text": {"field": "t"}}}
]
},
{
"width": 274, "height": 203,
"resolve": {"axis": {"x": "independent", "y": "independent"}},
"layer": [
{"data": {"name": "s3"},
 "mark": {"type": "errorbar", "color": "#e2733f", "ticks": {"size": 5, "thickness": 1, "opacity": 0.6}, "rule": {"strokeWidth": 0.6, "opacity": 0.25}},
 "encoding": {
  "x": {"field": "w", "type": "quantitative", "scale": {"domain": [2.52, 4.79], "nice": false, "zero": false},
        "axis": {"orient": "bottom", "values": [3,3.5,4,4.5], "format": "~g", "ticks": false, "tickSize": 0, "labelFontSize": 18, "labelPadding": 15, "title": "λᵣₑₛₜ [μm]", "titleFontSize": 18, "titlePadding": 3}},
  "y": {"field": "f", "type": "quantitative", "scale": {"domain": [0, 70], "nice": false, "zero": true},
        "axis": {"orient": "left", "values": [0,9,18,27,36,45,54,63], "ticks": false, "tickSize": 0, "labelFontSize": 18, "labelPadding": 8, "title": "Fᵥ(mJy)", "titleFontSize": 18, "titleX": -40, "titleBaseline": "bottom"}},
  "yError": {"field": "e"}
 }},
{"data": {"name": "s3"},
 "mark": {"type": "circle", "size": 30, "color": "black", "opacity": 1, "clip": true},
 "encoding": {
  "x": {"field": "w", "type": "quantitative", "axis": {"orient": "bottom", "values": [3,3.5,4,4.5], "labels": false, "tickSize": -12, "tickWidth": 2, "title": null}},
  "y": {"field": "f", "type": "quantitative", "axis": {"orient": "left", "values": [0,9,18,27,36,45,54,63], "labels": false, "tickSize": -11, "tickWidth": 2, "title": null}}
 }},
{"data": {"name": "a3"},
 "mark": {"type": "rule", "color": "black", "strokeWidth": 1.2},
 "encoding": {"x": {"field": "x", "type": "quantitative", "axis": null}, "y": {"field": "y1", "type": "quantitative", "axis": null}, "y2": {"field": "y2"}}},
{"data": {"name": "a3"},
 "mark": {"type": "point", "filled": true, "color": "black", "size": 26, "opacity": 1},
 "encoding": {"x": {"field": "x", "type": "quantitative", "axis": null}, "y": {"field": "y2", "type": "quantitative", "axis": null},
  "shape": {"field": "d", "type": "nominal", "scale": {"domain": ["down", "up"], "range": ["triangle-down", "triangle-up"]}, "legend": null}}},
{"data": {"name": "a3"},
 "mark": {"type": "text", "align": "center", "baseline": "middle", "fontSize": 13, "color": "black"},
 "encoding": {"x": {"field": "x", "type": "quantitative", "axis": null}, "y": {"field": "ty", "type": "quantitative", "axis": null}, "text": {"field": "t"}}},
{"data": {"name": "i3"}, "transform": [{"filter": "datum.k==='n'"}],
 "mark": {"type": "text", "align": "left", "baseline": "alphabetic", "fontSize": 19.5, "color": "#2b2ba6", "dx": 0},
 "encoding": {
  "x": {"field": "x", "type": "quantitative", "axis": {"orient": "bottom", "values": [2.6,2.7,2.8,2.9,3,3.1,3.2,3.3,3.4,3.5,3.6,3.7,3.8,3.9,4,4.1,4.2,4.3,4.4,4.5,4.6,4.7], "labels": false, "tickSize": -6, "tickWidth": 1.5, "title": null}},
  "y": {"field": "y", "type": "quantitative", "axis": {"orient": "right", "values": [0,9,18,27,36,45,54,63], "labels": false, "tickSize": -11, "tickWidth": 2, "title": null}},
  "text": {"field": "t"}
 }},
{"data": {"name": "i3"}, "transform": [{"filter": "datum.k==='h'"}],
 "mark": {"type": "text", "align": "left", "baseline": "alphabetic", "fontSize": 14, "color": "#2b2ba6", "dx": 14.1, "dy": 6},
 "encoding": {
  "x": {"field": "x", "type": "quantitative", "axis": {"orient": "top", "values": [3,3.5,4,4.5], "labels": false, "tickSize": -12, "tickWidth": 2, "minExtent": 0, "title": "NGC 4388 (Sy2.0)", "titleAnchor": "start", "titleFontSize": 18, "titlePadding": 6, "titleBaseline": "alphabetic"}},
  "y": {"field": "y", "type": "quantitative", "axis": null},
  "text": {"field": "t"}
 }},
{"data": {"name": "i3"}, "transform": [{"filter": "datum.k==='v'"}],
 "mark": {"type": "text", "align": "left", "baseline": "alphabetic", "fontSize": 19.5, "color": "#2b2ba6", "dx": 24.6},
 "encoding": {
  "x": {"field": "x", "type": "quantitative", "axis": {"orient": "top", "values": [2.6,2.7,2.8,2.9,3,3.1,3.2,3.3,3.4,3.5,3.6,3.7,3.8,3.9,4,4.1,4.2,4.3,4.4,4.5,4.6,4.7], "labels": false, "tickSize": -6, "tickWidth": 1.5, "minExtent": 0, "title": "(z=0.008419)", "titleAnchor": "end", "titleFontSize": 18, "titlePadding": 6, "titleBaseline": "alphabetic"}},
  "y": {"field": "y", "type": "quantitative", "axis": null},
  "text": {"field": "t"}
 }},
{"data": {"name": "i3"}, "transform": [{"filter": "datum.k==='p'"}],
 "mark": {"type": "text", "align": "left", "baseline": "alphabetic", "fontSize": 14, "color": "#2b2ba6", "dx": 90.4, "dy": -10},
 "encoding": {"x": {"field": "x", "type": "quantitative", "axis": null}, "y": {"field": "y", "type": "quantitative", "axis": null}, "text": {"field": "t"}}},
{"data": {"name": "i3"}, "transform": [{"filter": "datum.k==='m'"}],
 "mark": {"type": "text", "align": "left", "baseline": "alphabetic", "fontSize": 14, "color": "#2b2ba6", "dx": 90.4, "dy": 6},
 "encoding": {"x": {"field": "x", "type": "quantitative", "axis": null}, "y": {"field": "y", "type": "quantitative", "axis": null}, "text": {"field": "t"}}},
{"data": {"name": "i3"}, "transform": [{"filter": "datum.k==='x'"}],
 "mark": {"type": "text", "align": "left", "baseline": "alphabetic", "fontSize": 19.5, "color": "#2b2ba6", "dx": 134.7},
 "encoding": {"x": {"field": "x", "type": "quantitative", "axis": null}, "y": {"field": "y", "type": "quantitative", "axis": null}, "text": {"field": "t"}}},
{"data": {"name": "i3"}, "transform": [{"filter": "datum.k==='e'"}],
 "mark": {"type": "text", "align": "left", "baseline": "alphabetic", "fontSize": 14, "color": "#2b2ba6", "dx": 168.8, "dy": -10},
 "encoding": {"x": {"field": "x", "type": "quantitative", "axis": null}, "y": {"field": "y", "type": "quantitative", "axis": null}, "text": {"field": "t"}}},
{"data": {"name": "i3"}, "transform": [{"filter": "datum.k==='c'"}],
 "mark": {"type": "text", "align": "left", "baseline": "alphabetic", "fontSize": 19.5, "color": "#2b2ba6", "dx": 182.8},
 "encoding": {"x": {"field": "x", "type": "quantitative", "axis": null}, "y": {"field": "y", "type": "quantitative", "axis": null}, "text": {"field": "t"}}},
{"data": {"name": "i3"}, "transform": [{"filter": "datum.k==='q'"}],
 "mark": {"type": "text", "align": "left", "baseline": "alphabetic", "fontSize": 14, "color": "#2b2ba6", "dx": 206.6, "dy": -10},
 "encoding": {"x": {"field": "x", "type": "quantitative", "axis": null}, "y": {"field": "y", "type": "quantitative", "axis": null}, "text": {"field": "t"}}},
{"data": {"name": "i3"}, "transform": [{"filter": "datum.k==='l'"}],
 "mark": {"type": "text", "align": "left", "baseline": "alphabetic", "fontSize": 19.5, "color": "#2b2ba6", "dx": 0},
 "encoding": {"x": {"field": "x", "type": "quantitative", "axis": null}, "y": {"field": "y", "type": "quantitative", "axis": null}, "text": {"field": "t"}}},
{"data": {"name": "i3"}, "transform": [{"filter": "datum.k==='s'"}],
 "mark": {"type": "text", "align": "left", "baseline": "alphabetic", "fontSize": 14, "color": "#2b2ba6", "dx": 41.7, "dy": 6},
 "encoding": {"x": {"field": "x", "type": "quantitative", "axis": null}, "y": {"field": "y", "type": "quantitative", "axis": null}, "text": {"field": "t"}}},
{"data": {"name": "i3"}, "transform": [{"filter": "datum.k==='r'"}],
 "mark": {"type": "text", "align": "left", "baseline": "alphabetic", "fontSize": 19.5, "color": "#2b2ba6", "dx": 104.7},
 "encoding": {"x": {"field": "x", "type": "quantitative", "axis": null}, "y": {"field": "y", "type": "quantitative", "axis": null}, "text": {"field": "t"}}},
{"data": {"name": "i3"}, "transform": [{"filter": "datum.k==='u'"}],
 "mark": {"type": "text", "align": "left", "baseline": "alphabetic", "fontSize": 14, "color": "#2b2ba6", "dx": 201.8, "dy": -10},
 "encoding": {"x": {"field": "x", "type": "quantitative", "axis": null}, "y": {"field": "y", "type": "quantitative", "axis": null}, "text": {"field": "t"}}}
]
}
]
}
